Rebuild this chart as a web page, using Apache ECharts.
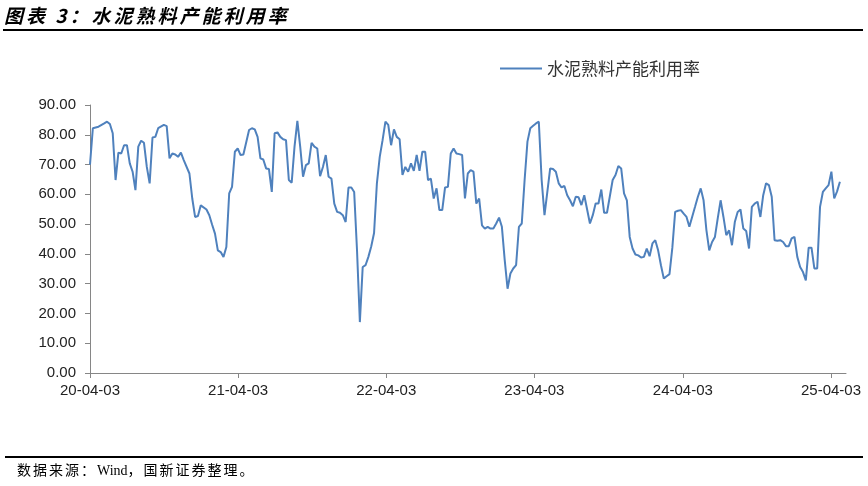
<!DOCTYPE html>
<html>
<head>
<meta charset="utf-8">
<script src="https://cdn.jsdelivr.net/npm/echarts@6/dist/echarts.min.js"></script>
<style>
html,body{margin:0;padding:0;background:#fff;}
#wrap{position:relative;width:868px;height:486px;overflow:hidden;background:#fff;}
#chart{position:absolute;left:0;top:0;width:868px;height:486px;}
#title{position:absolute;left:4px;top:3px;font-family:"Noto Sans CJK SC",sans-serif;font-weight:bold;font-style:italic;font-size:19px;letter-spacing:3px;color:#000;line-height:24px;white-space:nowrap;}
#topline{position:absolute;left:3px;top:29px;width:860px;height:2px;background:#000;}
#bottomline{position:absolute;left:5px;top:456px;width:858px;height:2px;background:#000;}
#source{position:absolute;left:17px;top:461px;font-family:"Liberation Serif","Noto Sans CJK SC",serif;font-size:14px;color:#000;line-height:20px;white-space:nowrap;}
#source .cjk{letter-spacing:2px;}
</style>
</head>
<body>
<div id="wrap">
  <div id="chart"></div>
  <div id="title">图表 3：水泥熟料产能利用率</div>
  <div id="topline"></div>
  <div id="bottomline"></div>
  <div id="source"><span class="cjk">数据来源：</span>Wind<span class="cjk">，国新证券整理。</span></div>
</div>
<script>
// ---- data (weekly, offsets in weeks from startDate) ----
const seriesName = '水泥熟料产能利用率';
const startDate = '2020-04-03';
const axisEndDate = '2025-05-10';
const weeks = [0,1,3,5,6,7,8,9,10,11,12,13,14,15,16,17,18,19,20,21,22,23,24,26,27,28,29,30,31,32,33,35,36,37,38,39,41,42,43,44,45,46,47,48,49,50,51,52,53,54,56,57,58,59,60,61,62,63,64,65,66,67,68,69,70,71,72,73,74,75,76,77,78,79,80,81,82,83,84,85,86,87,88,89,90,91,92,93,94,95,96,97,98,99,100,101,102,103,104,105,106,107,108,109,110,111,112,113,114,115,116,117,118,119,120,121,122,123,124,125,126,127,128,129,130,131,132,133,134,135,136,137,138,139,140,141,142,143,144,145,146,147,148,149,150,151,152,153,154,155,156,157,158,159,160,161,162,163,164,165,166,167,168,169,170,171,172,173,174,176,177,178,179,180,181,182,184,185,186,187,188,189,190,191,192,193,194,195,196,197,198,199,200,201,202,203,204,205,206,207,208,209,210,211,212,213,214,215,216,217,218,219,220,221,222,223,224,225,226,227,228,229,230,231,232,233,234,235,236,237,238,239,240,241,242,243,244,245,246,247,248,249,250,251,252,253,254,255,256,257,258,259,260,261,262,263,264];
const values = [70,82.2,82.7,83.8,84.4,83.6,80.5,64.8,74,73.7,76.5,76.5,70.4,67.6,61.4,76,78,77.3,69.2,63.7,79.1,79.3,82.2,83.3,82.9,72.1,73.7,73.4,72.6,74,71.5,67,58.6,52.4,52.7,56.3,54.9,53,49.8,46.8,41.2,40.6,39,42.3,60.3,62.5,74.3,75.4,73.2,73.4,81.6,82.2,81.8,79.3,72.1,71.7,68.7,68.5,60.8,80.5,80.8,79.3,78.5,78.2,64.8,63.9,76,84.7,76,65.9,69.8,70.4,77.3,76,75.4,66.1,69.2,73.2,65.9,65.3,56.9,54.1,53.8,53,50.7,62.3,62.3,60.8,41.2,17.1,35.6,36.2,39,42.5,47,63.7,72.6,78.2,84.4,83.3,76.5,81.8,79.3,78.5,66.5,69.2,67.6,70.4,67.9,73.2,67.9,74.3,74.3,64.8,65.3,58.6,62,54.7,54.7,62.3,62.5,73.7,75.4,73.7,73.5,73.2,58.6,67,68.1,67.6,56.9,58.6,49.6,48.5,49.1,48.5,48.5,50.2,52.2,49.1,37.9,28.3,33.4,35.1,36.2,49.1,50.2,64.8,77.7,82.2,83,83.8,84.4,64.8,53,60.8,68.7,68.5,67.6,63.7,62.3,62.8,59.7,58,56,59.2,59,56.4,59.7,50.2,53,56.9,56.9,61.6,53.8,53.8,64.8,66.5,69.5,68.7,60.3,58,45.7,41.8,39.8,39.5,38.8,39,41.8,39.2,43.5,44.6,41.2,36.2,31.7,32.5,33.2,42,54.1,54.5,54.7,53.5,52.4,49.1,52.5,55.8,59.2,62,58,48,41.2,44,45.7,52,58,52.4,46.3,47.9,42.9,50.7,54.1,54.9,48.5,47.7,41.8,55.8,56.9,57.5,52.4,59.7,63.7,63.1,59.2,44.6,44.4,44.6,44,42.6,42.6,45.2,45.7,39,35.6,33.9,31.1,42.1,42.1,35.1,35.1,55.8,60.8,62,63.1,67.6,58.6,61,64.2];
const tickDates = ['2020-04-03','2021-04-03','2022-04-03','2023-04-03','2024-04-03','2025-04-03'];
const tickLabels = ['20-04-03','21-04-03','22-04-03','23-04-03','24-04-03','25-04-03'];
const yMin = 0, yMax = 90, yStep = 10;

// ---- build ----
const DAY = 86400000;
const t0 = Date.parse(startDate);
const tickValues = tickDates.map(d => Date.parse(d));
const seriesData = weeks.map((w, i) => [t0 + w * 7 * DAY, values[i]]);

const chart = echarts.init(document.getElementById('chart'), null, {renderer: 'canvas'});
chart.setOption({
  animation: false,
  backgroundColor: 'transparent',
  grid: {left: 90, right: 22, top: 105, bottom: 113, containLabel: false},
  legend: {
    data: [{name: seriesName, icon: 'rect'}],
    left: 495, top: 55,
    itemWidth: 42, itemHeight: 2,
    textStyle: {fontFamily: '"Noto Sans CJK SC", sans-serif', fontSize: 17, color: '#333'}
  },
  xAxis: {
    type: 'value',
    min: t0,
    max: Date.parse(axisEndDate),
    splitLine: {show: false},
    axisLine: {show: true, lineStyle: {color: '#868686', width: 1}},
    axisTick: {show: true, length: 5, lineStyle: {color: '#868686'}, customValues: tickValues},
    axisLabel: {
      customValues: tickValues,
      margin: 10,
      fontFamily: '"Liberation Sans", Arial, sans-serif',
      fontSize: 15,
      color: '#222',
      formatter: v => { const i = tickValues.indexOf(v); return i >= 0 ? tickLabels[i] : ''; }
    }
  },
  yAxis: {
    type: 'value',
    min: yMin, max: yMax, interval: yStep,
    splitLine: {show: false},
    axisLine: {show: true, lineStyle: {color: '#868686', width: 1}},
    axisTick: {show: true, length: 5, lineStyle: {color: '#868686'}},
    axisLabel: {
      margin: 14,
      fontFamily: '"Liberation Sans", Arial, sans-serif',
      fontSize: 15,
      color: '#222',
      formatter: v => v.toFixed(2)
    }
  },
  series: [{
    name: seriesName,
    type: 'line',
    data: seriesData,
    symbol: 'none',
    showSymbol: false,
    lineStyle: {color: '#4f81bd', width: 2},
    itemStyle: {color: '#4f81bd'}
  }]
});
</script>
</body>
</html>
